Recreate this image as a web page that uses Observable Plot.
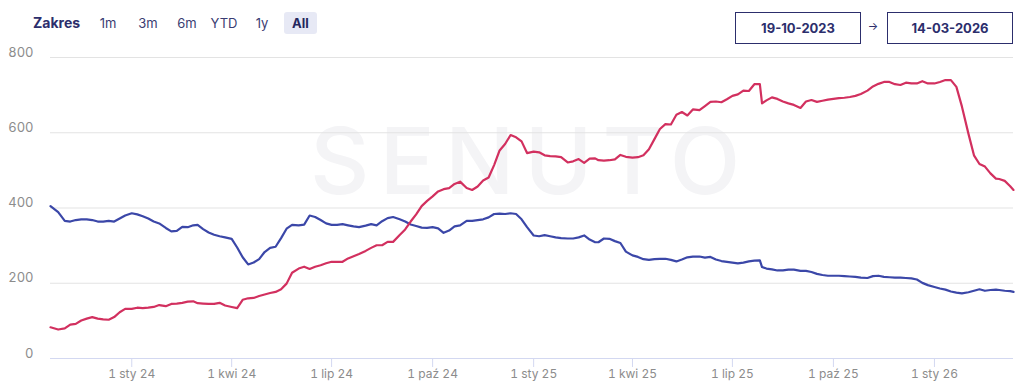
<!DOCTYPE html>
<html><head><meta charset="utf-8">
<script src="https://cdn.jsdelivr.net/npm/d3@7"></script>
<script src="https://cdn.jsdelivr.net/npm/@observablehq/plot@0.6"></script>
<style>
body{margin:0;background:#fff;font-family:Inter,"Noto Sans",sans-serif;}
#wrap{position:relative;width:1024px;height:390px;overflow:hidden;background:#fff;}
#header{position:relative;height:44px;z-index:2;}
.h{position:absolute;top:12px;height:22px;line-height:22px;font-size:13px;color:#3a3c72;text-align:center;}
.zak{left:33px;font-weight:700;font-size:14px;color:#2c2e6c;text-align:left;}
.btn{width:40px;}
.all{background:#e7e9f5;border-radius:3px;font-weight:700;color:#25275e;width:33px;}
.date{position:absolute;top:12px;height:32px;width:126px;box-sizing:border-box;border:1.5px solid #2c2e6c;display:flex;align-items:center;justify-content:center;font-weight:700;font-size:13px;color:#2c2e6c;}
.arrow{position:absolute;left:866px;top:19px;width:14px;text-align:center;font-size:11px;color:#2c2e6c;}
#wm{position:absolute;left:310px;top:115px;font-size:92px;line-height:92px;font-weight:500;letter-spacing:10px;color:#f4f4f6;z-index:0;white-space:nowrap;}
#chart{position:relative;z-index:1;}
</style></head><body>
<div id="wrap">
  <div id="wm">SENUTO</div>
  <div id="header">
    <span class="h zak">Zakres</span>
    <span class="h btn" style="left:88px">1m</span>
    <span class="h btn" style="left:128px">3m</span>
    <span class="h btn" style="left:167px">6m</span>
    <span class="h btn" style="left:204px">YTD</span>
    <span class="h btn" style="left:242px">1y</span>
    <span class="h all" style="left:284px">All</span>
    <div class="date" style="left:735px">19-10-2023</div>
    <div class="arrow">→</div>
    <div class="date" style="left:887px">14-03-2026</div>
  </div>
  <div id="chart"></div>
</div>
<script>
const dates = [
"2023-10-19","2023-10-26",
"2023-11-01","2023-11-06","2023-11-11","2023-11-16","2023-11-21","2023-11-26",
"2023-12-01","2023-12-06","2023-12-11","2023-12-16","2023-12-21","2023-12-26",
"2024-01-01","2024-01-06","2024-01-11","2024-01-16","2024-01-21","2024-01-26",
"2024-02-01","2024-02-06","2024-02-11","2024-02-16","2024-02-21","2024-02-26",
"2024-03-01","2024-03-06","2024-03-11","2024-03-16","2024-03-21","2024-03-26",
"2024-04-01","2024-04-06","2024-04-11","2024-04-16","2024-04-21","2024-04-26",
"2024-05-01","2024-05-06","2024-05-11","2024-05-16","2024-05-21","2024-05-26",
"2024-06-01","2024-06-06","2024-06-11","2024-06-16","2024-06-21","2024-06-26",
"2024-07-01","2024-07-06","2024-07-11","2024-07-16","2024-07-21","2024-07-26",
"2024-08-01","2024-08-06","2024-08-11","2024-08-16","2024-08-21","2024-08-26",
"2024-09-01","2024-09-06","2024-09-11","2024-09-16","2024-09-21","2024-09-26",
"2024-10-01","2024-10-06","2024-10-11","2024-10-16","2024-10-21","2024-10-26",
"2024-11-01","2024-11-06","2024-11-11","2024-11-16","2024-11-21","2024-11-26",
"2024-12-01","2024-12-06","2024-12-11","2024-12-16","2024-12-21","2024-12-26",
"2025-01-01","2025-01-06","2025-01-11","2025-01-16","2025-01-21","2025-01-26",
"2025-02-01","2025-02-06","2025-02-11","2025-02-16","2025-02-21","2025-02-26",
"2025-03-01","2025-03-06","2025-03-11","2025-03-16","2025-03-21","2025-03-26",
"2025-04-01","2025-04-06","2025-04-11","2025-04-16","2025-04-21","2025-04-26",
"2025-05-01","2025-05-06","2025-05-11","2025-05-16","2025-05-21","2025-05-26",
"2025-06-01","2025-06-06","2025-06-11","2025-06-16","2025-06-21","2025-06-26",
"2025-07-01","2025-07-06","2025-07-11","2025-07-16","2025-07-21","2025-07-26","2025-07-28",
"2025-08-01","2025-08-06","2025-08-11","2025-08-16","2025-08-21","2025-08-26",
"2025-09-01","2025-09-06","2025-09-11","2025-09-16","2025-09-21","2025-09-26",
"2025-10-01","2025-10-06","2025-10-11","2025-10-16","2025-10-21","2025-10-26",
"2025-11-01","2025-11-06","2025-11-11","2025-11-16","2025-11-21","2025-11-26",
"2025-12-01","2025-12-06","2025-12-11","2025-12-16","2025-12-21","2025-12-26",
"2026-01-01","2026-01-06","2026-01-11","2026-01-16","2026-01-21","2026-01-26",
"2026-02-01","2026-02-06","2026-02-11","2026-02-16","2026-02-21","2026-02-26",
"2026-03-01","2026-03-06","2026-03-11","2026-03-14"
];
const blueValues = [
405,389,
366,364,368,370,370,368,
364,364,366,364,372,380,
386,383,378,372,364,359,
347,338,339,350,349,354,
355,344,335,329,325,322,
318,295,269,250,255,264,
283,294,297,320,345,355,
354,356,380,376,368,359,
355,355,357,354,351,349,
353,357,354,365,373,376,
370,364,356,352,348,347,
349,346,334,340,351,354,
366,366,368,370,375,384,
385,384,386,384,370,349,
327,325,328,325,322,320,
319,319,322,327,316,309,
309,319,318,312,307,284,
274,270,264,262,264,265,
265,262,258,263,269,271,
271,268,270,263,259,257,
255,253,255,258,260,261,243,
239,237,234,234,236,236,
233,233,230,225,222,220,
220,220,219,218,217,215,
214,219,220,217,216,215,
215,214,213,210,201,195,
190,186,183,178,175,173,
176,180,184,180,182,183,
182,180,179,177
];
const redValues = [
83,77,
80,90,92,101,106,110,
106,104,103,110,123,132,
132,135,134,135,137,142,
139,145,146,148,151,152,
147,146,145,145,148,141,
137,134,156,160,161,166,
170,174,177,184,199,228,
239,244,238,244,248,253,
257,257,257,266,272,278,
286,294,301,301,310,310,
328,343,364,383,405,419,
431,444,450,453,464,470,
453,448,457,473,481,514,
553,570,594,588,577,546,
550,548,540,538,537,535,
521,524,530,520,531,532,
527,526,527,529,541,536,
534,535,540,556,583,610,
623,622,648,655,646,662,
660,671,682,683,681,689,
698,702,712,711,729,729,678,
686,694,690,683,678,674,
666,683,687,682,685,688,
690,692,693,695,698,703,
712,723,730,735,735,729,
727,733,731,731,737,731,
731,735,740,740,722,670,
597,540,517,510,492,478,
477,472,458,448
];
const yTicks = [0,200,400,600,800];
const xTickDates = ["2024-01-01","2024-04-01","2024-07-01","2024-10-01","2025-01-01","2025-04-01","2025-07-01","2025-10-01","2026-01-01"];
const xTickLabels = ["1 sty 24","1 kwi 24","1 lip 24","1 paź 24","1 sty 25","1 kwi 25","1 lip 25","1 paź 25","1 sty 26"];

const blueData = dates.map((d,i)=>({date:new Date(d), value:blueValues[i]}));
const redData = dates.map((d,i)=>({date:new Date(d), value:redValues[i]}));
const tickDates = xTickDates.map(d=>new Date(d));
const labelOf = new Map(tickDates.map((d,i)=>[+d, xTickLabels[i]]));

const chart = Plot.plot({
  width: 1024, height: 346,
  marginLeft: 50, marginRight: 11, marginTop: 13, marginBottom: 32,
  x: {type:"utc", domain:[new Date("2023-10-19"), new Date("2026-03-14")]},
  y: {domain:[0,800]},
  style: {fontFamily:"Inter, 'Noto Sans', sans-serif", background:"transparent", overflow:"visible"},
  marks: [
    Plot.gridY(yTicks.slice(1), {stroke:"#e3e3e3", strokeOpacity:1}),
    Plot.ruleY([0], {stroke:"#d3d8f1", strokeWidth:1.2}),
    Plot.axisY(yTicks, {tickSize:0, tickPadding:17, dy:-5, fontSize:13, fill:"#8c8c8c", label:null}),
    Plot.axisX(tickDates, {tickSize:9, tickPadding:2, fontSize:12, stroke:"#d3d8f1", fill:"#8c8c8c", tickFormat:d=>labelOf.get(+d), label:null}),
    Plot.line(blueData, {x:"date", y:"value", stroke:"#3b47a8", strokeWidth:2.2}),
    Plot.line(redData, {x:"date", y:"value", stroke:"#d2305f", strokeWidth:2.2})
  ]
});
document.getElementById("chart").appendChild(chart);
</script>
</body></html>
